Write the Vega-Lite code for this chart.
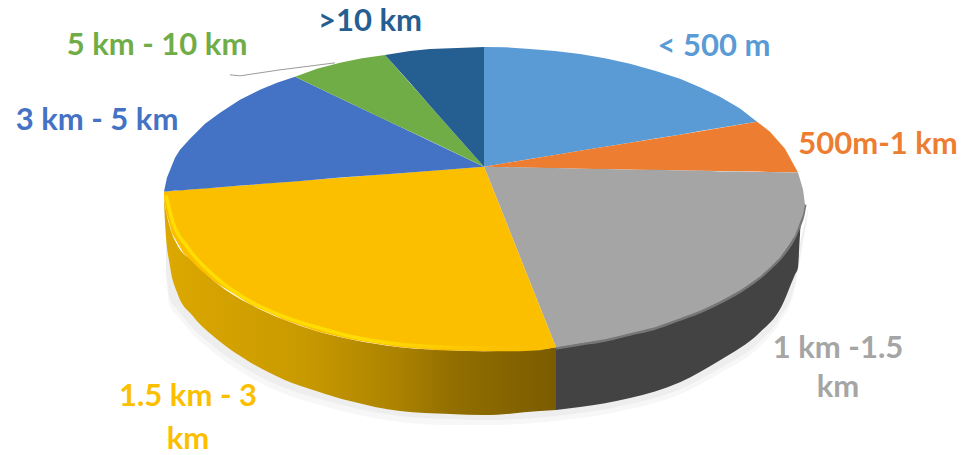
{
"$schema":"https://vega.github.io/schema/vega-lite/v6.json",
"width":976,"height":455,"autosize":{"type":"fit","contains":"padding"},"padding":0,
"background":"white",
"config":{"view":{"stroke":null}},
"datasets":{
"slices":[
{"s":"< 500 m","x":484,"y":47,"y2":167},{"s":"< 500 m","x":505,"y":47.4,"y2":163.5},{"s":"< 500 m","x":530,"y":49,"y2":159.4},{"s":"< 500 m","x":555,"y":51,"y2":155.3},{"s":"< 500 m","x":580,"y":54,"y2":151},{"s":"< 500 m","x":605,"y":58.5,"y2":147},{"s":"< 500 m","x":630,"y":64,"y2":143},{"s":"< 500 m","x":655,"y":71,"y2":138.8},{"s":"< 500 m","x":680,"y":79,"y2":135},{"s":"< 500 m","x":700,"y":87.5,"y2":131.4},{"s":"< 500 m","x":720,"y":97,"y2":128},{"s":"< 500 m","x":740,"y":108.7,"y2":124.8},{"s":"< 500 m","x":757,"y":122,"y2":122},
{"s":"500m-1 km","x":484,"y":167,"y2":167},{"s":"500m-1 km","x":580,"y":151,"y2":169},{"s":"500m-1 km","x":680,"y":135,"y2":171},{"s":"500m-1 km","x":757,"y":122,"y2":172},{"s":"500m-1 km","x":770,"y":132,"y2":172.3},{"s":"500m-1 km","x":785,"y":149,"y2":172.7},{"s":"500m-1 km","x":798,"y":173,"y2":173},
{"s":"1 km -1.5 km","x":484,"y":167,"y2":167},{"s":"1 km -1.5 km","x":500,"y":167.3,"y2":207},{"s":"1 km -1.5 km","x":520,"y":167.7,"y2":257.5},{"s":"1 km -1.5 km","x":540,"y":168,"y2":308},{"s":"1 km -1.5 km","x":556,"y":168.4,"y2":348},{"s":"1 km -1.5 km","x":580,"y":169,"y2":344},{"s":"1 km -1.5 km","x":605,"y":169.3,"y2":340},{"s":"1 km -1.5 km","x":630,"y":170,"y2":334},{"s":"1 km -1.5 km","x":655,"y":170.2,"y2":328},{"s":"1 km -1.5 km","x":680,"y":171,"y2":319},{"s":"1 km -1.5 km","x":700,"y":171,"y2":311.5},{"s":"1 km -1.5 km","x":720,"y":172,"y2":302},{"s":"1 km -1.5 km","x":740,"y":171.9,"y2":291},{"s":"1 km -1.5 km","x":760,"y":172.3,"y2":277},{"s":"1 km -1.5 km","x":770,"y":172.4,"y2":268},{"s":"1 km -1.5 km","x":780,"y":172.7,"y2":258},{"s":"1 km -1.5 km","x":795,"y":173,"y2":236},{"s":"1 km -1.5 km","x":798,"y":173,"y2":228},{"s":"1 km -1.5 km","x":803,"y":190,"y2":215},{"s":"1 km -1.5 km","x":805,"y":205,"y2":205},
{"s":"1.5 km - 3 km","x":164,"y":192,"y2":198},{"s":"1.5 km - 3 km","x":166,"y":192,"y2":212},{"s":"1.5 km - 3 km","x":172,"y":191.5,"y2":234},{"s":"1.5 km - 3 km","x":183,"y":190.5,"y2":253},{"s":"1.5 km - 3 km","x":200,"y":189,"y2":270},{"s":"1.5 km - 3 km","x":217,"y":188,"y2":284},{"s":"1.5 km - 3 km","x":233,"y":186.5,"y2":294},{"s":"1.5 km - 3 km","x":250,"y":185.3,"y2":305},{"s":"1.5 km - 3 km","x":270,"y":183.5,"y2":314},{"s":"1.5 km - 3 km","x":283,"y":182.7,"y2":320},{"s":"1.5 km - 3 km","x":317,"y":180,"y2":332},{"s":"1.5 km - 3 km","x":350,"y":177.5,"y2":340},{"s":"1.5 km - 3 km","x":380,"y":175,"y2":345},{"s":"1.5 km - 3 km","x":400,"y":173.6,"y2":348},{"s":"1.5 km - 3 km","x":440,"y":170.4,"y2":351},{"s":"1.5 km - 3 km","x":484,"y":167,"y2":352},{"s":"1.5 km - 3 km","x":500,"y":207,"y2":352},{"s":"1.5 km - 3 km","x":520,"y":257.5,"y2":352},{"s":"1.5 km - 3 km","x":540,"y":308,"y2":351},{"s":"1.5 km - 3 km","x":556,"y":348,"y2":348},
{"s":"3 km - 5 km","x":164,"y":192,"y2":192},{"s":"3 km - 5 km","x":167,"y":178,"y2":191.8},{"s":"3 km - 5 km","x":175,"y":158,"y2":191},{"s":"3 km - 5 km","x":180,"y":150,"y2":190.8},{"s":"3 km - 5 km","x":190,"y":139,"y2":190},{"s":"3 km - 5 km","x":205,"y":124,"y2":188.8},{"s":"3 km - 5 km","x":220,"y":113,"y2":187.6},{"s":"3 km - 5 km","x":240,"y":100,"y2":186},{"s":"3 km - 5 km","x":260,"y":90,"y2":184.5},{"s":"3 km - 5 km","x":277,"y":83,"y2":183.2},{"s":"3 km - 5 km","x":295,"y":77,"y2":181.8},{"s":"3 km - 5 km","x":340,"y":98.4,"y2":178},{"s":"3 km - 5 km","x":400,"y":127,"y2":173.6},{"s":"3 km - 5 km","x":484,"y":167,"y2":167},
{"s":"5 km - 10 km","x":295,"y":77,"y2":77},{"s":"5 km - 10 km","x":317,"y":69,"y2":87.5},{"s":"5 km - 10 km","x":340,"y":63,"y2":98.4},{"s":"5 km - 10 km","x":362,"y":58.4,"y2":108.9},{"s":"5 km - 10 km","x":385,"y":55,"y2":120},{"s":"5 km - 10 km","x":430,"y":106,"y2":141},{"s":"5 km - 10 km","x":484,"y":167,"y2":167},
{"s":">10 km","x":385,"y":55,"y2":55},{"s":">10 km","x":410,"y":51,"y2":83},{"s":">10 km","x":430,"y":49,"y2":106},{"s":">10 km","x":484,"y":47,"y2":167}
],
"wallY":[{"x":164,"y":198,"y2":200},{"x":165,"y":205,"y2":223},{"x":170,"y":228,"y2":267},{"x":177,"y":245,"y2":293},{"x":193,"y":262,"y2":317},{"x":217,"y":284,"y2":340},{"x":250,"y":305,"y2":363},{"x":283,"y":320,"y2":380},{"x":317,"y":332,"y2":392},{"x":350,"y":340,"y2":402},{"x":400,"y":348,"y2":412},{"x":450,"y":351,"y2":415},{"x":484,"y":352,"y2":416},{"x":540,"y":350,"y2":412},{"x":556,"y":348,"y2":411}],
"wallG":[{"x":556,"y":348,"y2":411},{"x":580,"y":344,"y2":408},{"x":630,"y":334,"y2":399},{"x":680,"y":319,"y2":383},{"x":720,"y":302,"y2":361},{"x":760,"y":277,"y2":333},{"x":780,"y":258,"y2":310},{"x":795,"y":236,"y2":275},{"x":798,"y":228,"y2":268},{"x":800,"y":222,"y2":235},{"x":805,"y":205,"y2":205}],
"shadow":[{"x":166,"y":240,"y2":272,"y3":278},{"x":170,"y":265,"y2":300,"y3":307},{"x":177,"y":290,"y2":310,"y3":316},{"x":193,"y":315,"y2":329,"y3":335},{"x":217,"y":338,"y2":350,"y3":356},{"x":250,"y":361,"y2":372,"y3":378},{"x":283,"y":378,"y2":388,"y3":394},{"x":317,"y":390,"y2":399,"y3":405},{"x":350,"y":400,"y2":408,"y3":414},{"x":400,"y":410,"y2":417,"y3":423},{"x":450,"y":413,"y2":420,"y3":426},{"x":484,"y":413,"y2":421,"y3":426},{"x":556,"y":408,"y2":417,"y3":422},{"x":630,"y":396,"y2":405,"y3":410},{"x":680,"y":380,"y2":390,"y3":395},{"x":720,"y":358,"y2":369,"y3":374},{"x":760,"y":330,"y2":342,"y3":347},{"x":780,"y":307,"y2":318,"y3":323},{"x":795,"y":272,"y2":284,"y3":289},{"x":802,"y":235,"y2":245,"y3":250},{"x":808,"y":210,"y2":212,"y3":214}],
"rim":[{"x":166,"y":196},{"x":168,"y":204},{"x":173,"y":223},{"x":187,"y":247},{"x":217,"y":279},{"x":250,"y":302},{"x":283,"y":317},{"x":317,"y":328},{"x":350,"y":337},{"x":400,"y":345},{"x":450,"y":348},{"x":530,"y":349}],
"greyEdge":[{"x":556,"y":349},{"x":580,"y":345},{"x":605,"y":341},{"x":630,"y":335},{"x":655,"y":329},{"x":680,"y":320},{"x":700,"y":312.5},{"x":720,"y":303},{"x":740,"y":292},{"x":760,"y":278},{"x":770,"y":269},{"x":780,"y":259},{"x":795,"y":237},{"x":800,"y":225},{"x":803,"y":216},{"x":805,"y":205}],
"leader":[{"x":230,"y":75},{"x":240,"y":76},{"x":280,"y":70},{"x":335,"y":63}],
"labels":[
{"s":"< 500 m","t":"< 500 m","x":714,"y":47},
{"s":"500m-1 km","t":"500m-1 km","x":878,"y":145},
{"s":"1 km -1.5 km","t":"1 km -1.5","x":838,"y":350},
{"s":"1 km -1.5 km","t":"km","x":838,"y":389},
{"s":"1.5 km - 3 km","t":"1.5 km - 3","x":188,"y":398},
{"s":"1.5 km - 3 km","t":"km","x":188,"y":441},
{"s":"3 km - 5 km","t":"3 km - 5 km","x":97,"y":121},
{"s":"5 km - 10 km","t":"5 km - 10 km","x":157,"y":46},
{"s":">10 km","t":">10 km","x":370,"y":22}
]},
"encoding":{
"x":{"field":"x","type":"quantitative","axis":null,"scale":{"domain":[0,976],"nice":false,"zero":false}},
"y":{"field":"y","type":"quantitative","axis":null,"scale":{"domain":[455,0],"nice":false,"zero":false}}
},
"layer":[
{"data":{"name":"leader"},"mark":{"type":"line","color":"#9a9a9a","strokeWidth":1}},
{"data":{"name":"shadow"},"mark":{"type":"area","color":"#f7f7f7","interpolate":"monotone"},"encoding":{"y2":{"field":"y3"}}},
{"data":{"name":"shadow"},"mark":{"type":"area","color":"#eeeeee","interpolate":"monotone"},"encoding":{"y2":{"field":"y2"}}},
{"data":{"name":"wallY"},"mark":{"type":"area","interpolate":"monotone","color":{"gradient":"linear","x1":0,"x2":1,"y1":0,"y2":0,"stops":[{"offset":0,"color":"#DCA800"},{"offset":0.35,"color":"#C99A00"},{"offset":0.6,"color":"#AB8200"},{"offset":0.73,"color":"#936F00"},{"offset":1,"color":"#7A5C00"}]}},"encoding":{"y2":{"field":"y2"}}},
{"data":{"name":"wallG"},"mark":{"type":"area","color":"#434343","interpolate":"monotone"},"encoding":{"y2":{"field":"y2"}}},
{"data":{"name":"greyEdge"},"mark":{"type":"line","color":"#777777","strokeWidth":3,"interpolate":"monotone"}},
{"data":{"name":"slices"},"mark":{"type":"area"},"encoding":{"y2":{"field":"y2"},"color":{"field":"s","type":"nominal","legend":null,"scale":{"domain":["< 500 m","500m-1 km","1 km -1.5 km","1.5 km - 3 km","3 km - 5 km","5 km - 10 km",">10 km"],"range":["#5B9BD5","#ED7D31","#A5A5A5","#FBBF00","#4472C4","#70AD47","#255E91"]}}}},
{"data":{"name":"rim"},"mark":{"type":"line","interpolate":"monotone","strokeWidth":3.5,"color":{"gradient":"linear","x1":0,"x2":1,"y1":0,"y2":0,"stops":[{"offset":0,"color":"#FFDD00"},{"offset":0.55,"color":"#FFDD00"},{"offset":0.8,"color":"#FDC800"},{"offset":1,"color":"#FBBF00"}]}}},
{"data":{"name":"labels"},"mark":{"type":"text","font":"Lato","fontWeight":"bold","fontSize":31,"align":"center","baseline":"middle"},"encoding":{"text":{"field":"t"},"color":{"field":"s","type":"nominal","legend":null}}}
]
}
